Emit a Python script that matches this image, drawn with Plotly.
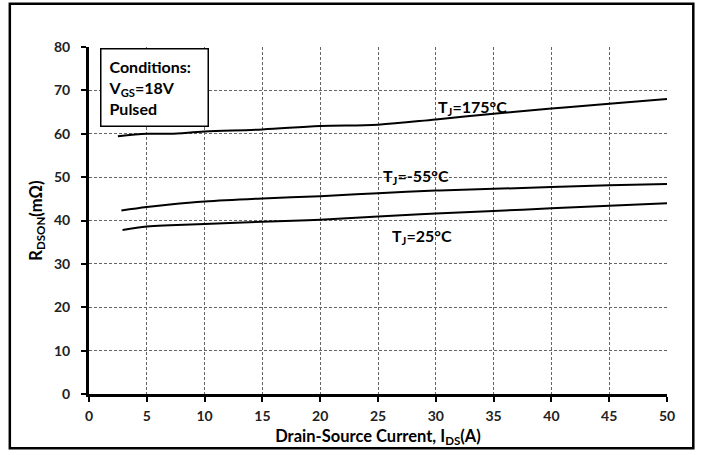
import plotly.graph_objects as go

x_175 = [2.5, 5, 7, 10, 15, 20, 25, 30, 35, 40, 45, 50]
y_175 = [59.4, 60.0, 60.0, 60.5, 61.0, 61.8, 62.1, 63.3, 64.6, 65.8, 66.9, 68.0]

x_m55 = [2.8, 5, 7, 10, 15, 20, 25, 30, 35, 40, 45, 50]
y_m55 = [42.3, 43.1, 43.7, 44.4, 45.1, 45.6, 46.3, 46.9, 47.3, 47.7, 48.1, 48.4]

x_25 = [2.9, 5, 7, 10, 15, 20, 25, 30, 35, 40, 45, 50]
y_25 = [37.8, 38.6, 38.9, 39.2, 39.7, 40.2, 40.9, 41.6, 42.2, 42.8, 43.4, 44.0]

labels = ["T<sub>J</sub>=175°C", "T<sub>J</sub>=-55°C", "T<sub>J</sub>=25°C"]
label_x = [33.2, 28.3, 28.8]
label_y = [66.0, 50.1, 36.4]

FONT = "Lato, Open Sans, sans-serif"

fig = go.Figure()
for xs, ys in [(x_175, y_175), (x_m55, y_m55), (x_25, y_25)]:
    fig.add_trace(go.Scatter(x=xs, y=ys, mode="lines", line=dict(color="black", width=2, shape="spline"),
                             showlegend=False, hoverinfo="skip"))

for t, lx, ly in zip(labels, label_x, label_y):
    fig.add_annotation(x=lx, y=ly, text="<b>" + t + "</b>", showarrow=False,
                       font=dict(family=FONT, size=16, color="black"))

fig.add_annotation(xref="paper", yref="paper", x=0.019, y=0.996, xanchor="left", yanchor="top",
                   text="<b>Conditions:<br>V<sub>GS</sub>=18V<br>Pulsed</b>", align="left",
                   width=92, height=62, valign="middle",
                   showarrow=False, bordercolor="black", borderwidth=1.5, borderpad=7,
                   bgcolor="white", font=dict(family=FONT, size=16, color="black"))

fig.add_shape(type="rect", xref="paper", yref="paper", x0=-0.137, x1=1.0455, y0=-0.156, y1=1.125,
              line=dict(color="black", width=2.5), layer="below")

axis_common = dict(showgrid=True, gridcolor="#666666", griddash="3px,2px", gridwidth=1,
                   showline=True, linecolor="black", linewidth=3, ticks="outside", ticklen=5,
                   tickwidth=2, tickcolor="black", zeroline=False,
                   tickfont=dict(family=FONT, size=14, color="#222222", weight="bold"))

fig.update_layout(
    width=702, height=455,
    margin=dict(l=89, r=35, t=47, b=59),
    paper_bgcolor="white", plot_bgcolor="white",
    xaxis=dict(range=[0, 50], dtick=5, tick0=0, ticklabelstandoff=2,
               title=dict(text="<b>Drain-Source Current, I<sub>DS</sub>(A)</b>", standoff=8,
                          font=dict(family=FONT, size=16.5, color="black")), **axis_common),
    yaxis=dict(range=[0, 80], dtick=10, tick0=0, ticklabelstandoff=8,
               title=dict(text="<b>R<sub>DSON</sub>(mΩ)</b>", standoff=8,
                          font=dict(family=FONT, size=16.5, color="black")), **axis_common),
)

fig.write_html("out.html", config={"displayModeBar": False},
               post_script="document.body.style.margin='0';")
